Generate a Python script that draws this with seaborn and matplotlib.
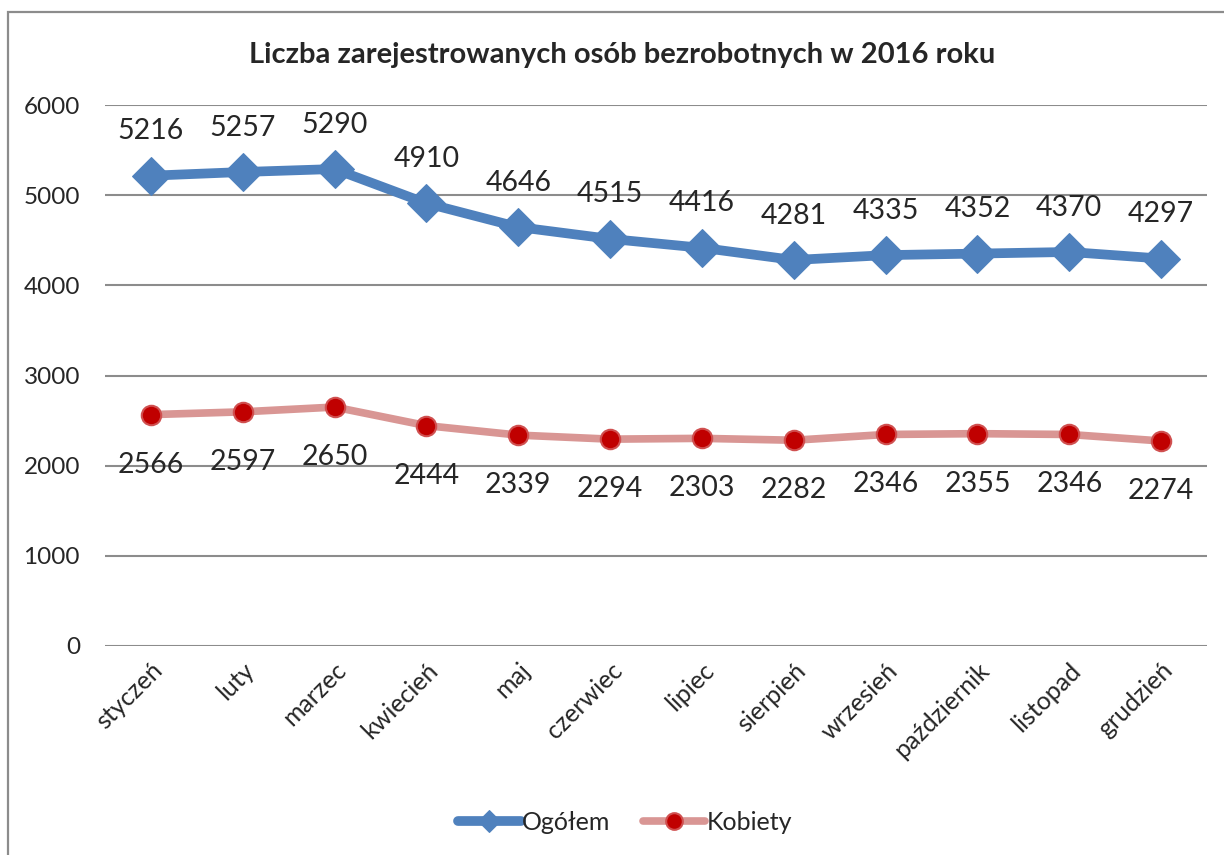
import matplotlib
matplotlib.use("Agg")
import matplotlib.pyplot as plt
import seaborn as sns
import pandas as pd
from matplotlib.patches import Rectangle

# Data
months = ["styczeń", "luty", "marzec", "kwiecień", "maj", "czerwiec",
          "lipiec", "sierpień", "wrzesień", "październik", "listopad", "grudzień"]
ogolem = [5216, 5257, 5290, 4910, 4646, 4515, 4416, 4281, 4335, 4352, 4370, 4297]
kobiety = [2566, 2597, 2650, 2444, 2339, 2294, 2303, 2282, 2346, 2355, 2346, 2274]
y_ticks = [0, 1000, 2000, 3000, 4000, 5000, 6000]

title = "Liczba zarejestrowanych osób bezrobotnych w 2016 roku"

sns.set_theme(style="white")
plt.rcParams["font.family"] = ["Lato", "DejaVu Sans"]

df = pd.DataFrame({"idx": list(range(len(months))), "Ogółem": ogolem, "Kobiety": kobiety})

fig = plt.figure(figsize=(12.24, 8.55), dpi=100)
ax = fig.add_axes([105 / 1224, 1 - 646 / 855, (1207 - 105) / 1224, (646 - 105) / 855])

# outer chart border (cut off at right/bottom as in the original)
fig.patches.append(Rectangle((8 / 1224, -0.05), 1.2, 1 - 12 / 855 + 0.05,
                             transform=fig.transFigure, fill=False,
                             edgecolor="#8c8c8c", linewidth=1.6, zorder=0))

blue = "#4F81BD"
pink = "#D99694"
red = "#C00000"

sns.lineplot(data=df, x="idx", y="Ogółem", ax=ax, color=blue, linewidth=7,
             marker="D", markersize=19, markeredgecolor=blue, label="Ogółem", zorder=4)
sns.lineplot(data=df, x="idx", y="Kobiety", ax=ax, color=pink, linewidth=5.5,
             marker="o", markersize=14, markerfacecolor=red, markeredgecolor="#d05050",
             markeredgewidth=1.5, label="Kobiety", zorder=4)

for i, v in enumerate(ogolem):
    ax.annotate(str(v), (i, v), xytext=(0, 32), textcoords="offset points",
                ha="center", va="center", fontsize=20.5)
for i, v in enumerate(kobiety):
    ax.annotate(str(v), (i, v), xytext=(0, -36), textcoords="offset points",
                ha="center", va="center", fontsize=20.5)

ax.set_xlim(-0.5, len(months) - 0.5)
ax.set_ylim(0, 6000)
ax.set_yticks(y_ticks)
ax.set_yticklabels([str(t) for t in y_ticks], fontsize=17.5)
ax.set_xticks(range(len(months)))
ax.set_xticklabels(months, rotation=45, ha="right", rotation_mode="anchor", fontsize=18)
ax.tick_params(axis="y", length=0, pad=18)
ax.tick_params(axis="x", length=0, pad=9)
ax.grid(axis="y", color="#8c8c8c", linewidth=1.5)
ax.set_axisbelow(True)
for s in ax.spines.values():
    s.set_visible(False)
ax.set_xlabel("")
ax.set_ylabel("")

fig.text(622 / 1224, 1 - 55 / 855, title, ha="center", va="center",
         fontsize=21, fontweight="bold")

leg = ax.legend(loc="center", bbox_to_anchor=(625 / 1224, 1 - 822 / 855),
                bbox_transform=fig.transFigure, ncol=2, frameon=False, fontsize=18,
                handlelength=2.5, columnspacing=1.3, handletextpad=0.05)
leg.legend_handles[0].set_markersize(11)
leg.legend_handles[1].set_markersize(12)

fig.savefig("out.png", dpi=100)
